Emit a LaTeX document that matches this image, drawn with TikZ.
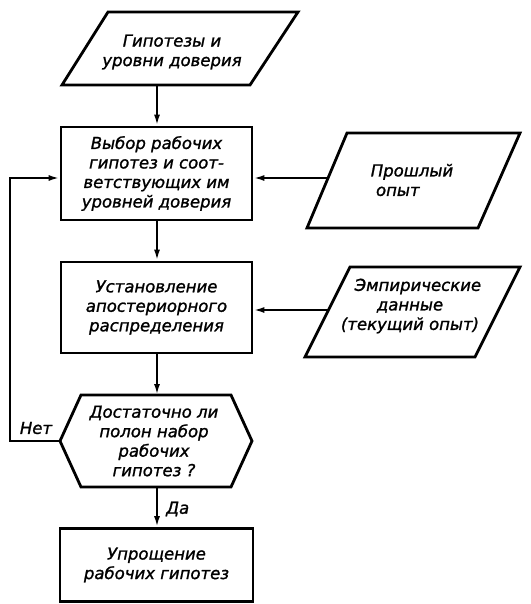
\documentclass[tikz,border=0pt]{standalone}
\usepackage{fontspec}
\setmainfont{DejaVu Sans}[ItalicFeatures={FakeBold=1.3}]
\usetikzlibrary{arrows.meta}
\begin{document}
\begin{tikzpicture}[x=1pt,y=-1pt,
  outline/.style={line width=2.8pt,line join=miter},
  box/.style={draw,line width=2.8pt,rectangle,inner sep=0pt},
  txt/.style={font=\itshape\fontsize{16.5}{19.5}\selectfont,align=center,inner sep=0pt},
  conn/.style={line width=2.1pt,-{Latex[length=11pt,width=6pt]}},
  lbl/.style={font=\itshape\fontsize{16.5}{18}\selectfont,inner sep=0pt}]
\useasboundingbox (0,0) rectangle (530,604);
% top parallelogram
\draw[outline] (108,12) -- (298,12) -- (250,85) -- (62,85) -- cycle;
\node[txt] (hyp) at (172,52) {Гипотезы и\\уровни доверия};
\coordinate (hypS) at (157,85);
% box 1
\node[box,minimum width=191pt,minimum height=93pt] (sel) at (156.5,173.5) {};
\node[txt] (selT) at (sel.center) {Выбор рабочих\\гипотез и соот-\\ветствующих им\\уровней доверия};
% box 2
\node[box,minimum width=191pt,minimum height=91pt] (post) at (156.5,307.5) {};
\node[txt] (postT) at (post.center) {Установление\\апостериорного\\распределения};
% hexagon
\draw[outline] (60,441) -- (81,395) -- (231,395) -- (252,441) -- (231,487) -- (81,487) -- cycle;
\node[txt] (dec) at (154,441) {Достаточно ли\\полон набор\\рабочих\\гипотез ?};
\coordinate (decN) at (157,395);
\coordinate (decS) at (157,487);
\coordinate (decW) at (60,441);
% box 3
\node[box,minimum width=193pt,minimum height=73pt] (simp) at (156.5,565) {};
\node[txt] (simpT) at (simp.center) {Упрощение\\рабочих гипотез};
% right parallelogram 1
\draw[outline] (347,133) -- (520,133) -- (478,228) -- (307,228) -- cycle;
\node[txt,align=left] (past) at (412,180) {Прошлый\\\ опыт};
\coordinate (pastW) at (328,178);
% right parallelogram 2
\draw[outline] (350,267) -- (520,267) -- (475,357) -- (305,357) -- cycle;
\node[txt] (emp) at (410,306) {\ \ \ Эмпирические\\данные\\(текущий опыт)};
\coordinate (empW) at (328.5,310);
% connectors
\draw[conn] (hypS) -- (sel.north -| hypS);
\draw[conn] (sel.south -| hypS) -- (post.north -| hypS);
\draw[conn] (post.south -| hypS) -- (decN);
\draw[conn] (decS) -- (simp.north -| decS);
\draw[conn] (pastW) -- (pastW -| sel.east);
\draw[conn] (empW) -- (empW -| post.east);
\draw[conn] (decW) -- (10,441) -- (10,178) -- (sel.west |- 0,178);
% labels
\node[lbl,anchor=west] (yes) at (166,509) {Да};
\node[lbl] (no) at (36,428) {Нет};
\end{tikzpicture}
\end{document}
